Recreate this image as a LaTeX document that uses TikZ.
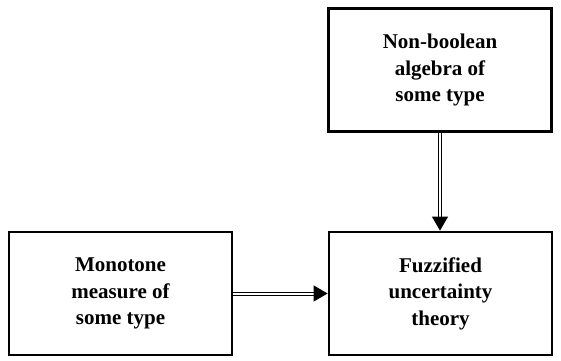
\documentclass[tikz,border=0pt]{standalone}
\usepackage{fontspec}
\setmainfont{Liberation Serif}
\usetikzlibrary{arrows.meta}

\begin{document}
\begin{tikzpicture}[
    x=1pt, y=1pt,
    font=\fontsize{21}{26.5}\selectfont\bfseries,
    box/.style={draw, line width=2.8pt, minimum width=223pt,
                minimum height=123pt, align=center, inner sep=0pt},
    arr/.style={double, double distance=2pt, line width=1pt,
                -{Triangle[length=14pt, width=16pt, fill=black]}},
]
\useasboundingbox (0,0) rectangle (561,360);
\node[box] (alg)   at (440,290) {Non-boolean\\algebra of\\some type};
\node[box] (fuzz)  at (440.5,66.5) {Fuzzified\\uncertainty\\theory};
\node[box] (mono)  at (120.5,66.5) {Monotone\\measure of\\some type};

\draw[arr] (alg.south) -- (fuzz.north -| alg.south);
\draw[arr] (mono.east) -- (fuzz.west);
\end{tikzpicture}
\end{document}
